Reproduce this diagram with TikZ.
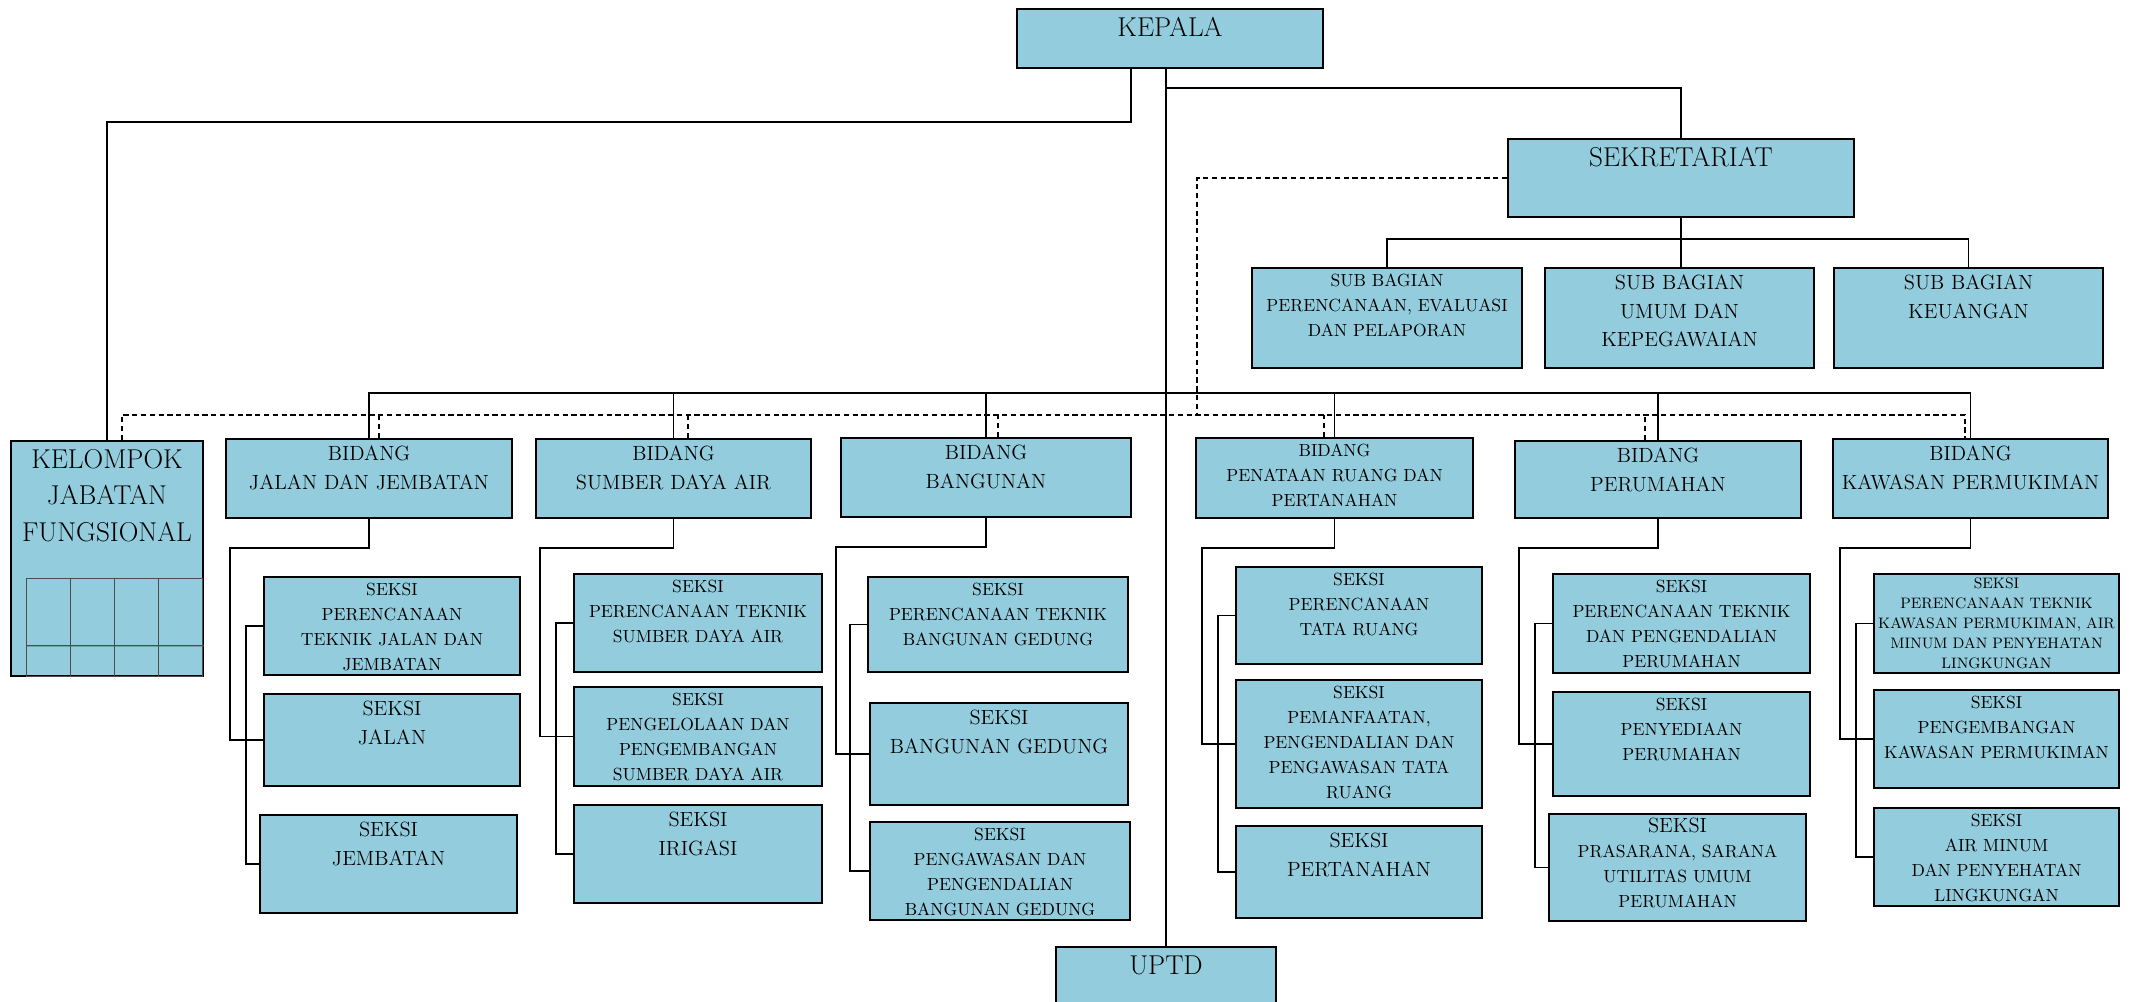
\documentclass[tikz,border=0pt]{standalone}
\usepackage{tikz}
\definecolor{boxblue}{RGB}{147,205,221}

\begin{document}
\begin{tikzpicture}[
  box/.style={draw,line width=1pt,fill=boxblue,anchor=north,align=center,inner xsep=0pt,inner ysep=0pt},
  bigbox/.style={box,font=\fontsize{15.5}{20.8}\selectfont,text height=0.55cm},
  midbox/.style={box,font=\fontsize{11.7}{16.2}\selectfont,text height=0.44cm},
  smlbox/.style={box,font=\fontsize{10}{14.2}\selectfont,text height=0.38cm},
  tnybox/.style={box,font=\fontsize{8.6}{11.3}\selectfont,text height=0.30cm},
  link/.style={line width=0.9pt},
  dline/.style={line width=0.8pt,dash pattern=on 3pt off 2pt},
  gridln/.style={draw=black!70,line width=0.6pt}]
\useasboundingbox (0,0) rectangle (42.68,-20.04);
\clip (0,0) rectangle (42.68,-20.04);
% top
\node[bigbox,text width=6.12cm,text depth=0.63cm] (kepala) at (23.40,-0.16) {KEPALA};
\node[bigbox,text width=6.92cm,text depth=1.01cm] (sekr)   at (33.62,-2.76) {SEKRETARIAT};
\node[bigbox,text width=4.40cm,text depth=0.61cm] (uptd)   at (23.32,-18.92) {UPTD};
% sub bagian
\node[smlbox,text width=5.40cm,text depth=1.62cm] (sbren)  at (27.74,-5.34) {SUB BAGIAN\\PERENCANAAN, EVALUASI\\DAN PELAPORAN};
\node[midbox,text width=5.38cm,text depth=1.56cm] (sbumum) at (33.59,-5.34) {SUB BAGIAN\\UMUM DAN\\KEPEGAWAIAN};
\node[midbox,text width=5.38cm,text depth=1.56cm] (sbkeu)  at (39.37,-5.34) {SUB BAGIAN\\KEUANGAN};
% bidang row
\node[bigbox,text width=3.84cm,text depth=4.15cm] (jabfung)   at (2.14,-8.80)  {KELOMPOK\\JABATAN\\FUNGSIONAL};
\node[midbox,text width=5.72cm,text depth=1.14cm] (bdjalan)   at (7.38,-8.76)  {BIDANG\\JALAN DAN JEMBATAN};
\node[midbox,text width=5.50cm,text depth=1.14cm] (bdsda)     at (13.47,-8.76) {BIDANG\\SUMBER DAYA AIR};
\node[midbox,text width=5.80cm,text depth=1.14cm] (bdbang)    at (19.72,-8.74) {BIDANG\\BANGUNAN};
\node[smlbox,text width=5.54cm,text depth=1.22cm] (bdtata)    at (26.69,-8.74) {BIDANG\\PENATAAN RUANG DAN\\PERTANAHAN};
\node[midbox,text width=5.72cm,text depth=1.10cm] (bdrumah)   at (33.16,-8.80) {BIDANG\\PERUMAHAN};
\node[midbox,text width=5.50cm,text depth=1.14cm] (bdkawasan) at (39.41,-8.76) {BIDANG\\KAWASAN PERMUKIMAN};
% grid inside the fungsional box
\foreach \i in {0,...,3}
  \draw[gridln] ([shift={(0.32+\i*0.88,0)}]jabfung.south west) rectangle ++(0.88,1.96);
\draw[gridln] ([shift={(0.32,0.62)}]jabfung.south west) -- ([yshift=0.62cm]jabfung.south east);
% seksi, jalan dan jembatan
\node[smlbox,text width=5.12cm,text depth=1.58cm] (jj1) at (7.84,-11.52) {SEKSI\\PERENCANAAN\\TEKNIK JALAN DAN\\JEMBATAN};
\node[midbox,text width=5.12cm,text depth=1.40cm] (jj2) at (7.84,-13.86) {SEKSI\\JALAN};
\node[midbox,text width=5.14cm,text depth=1.52cm] (jj3) at (7.77,-16.28) {SEKSI\\JEMBATAN};
% seksi, sumber daya air
\node[smlbox,text width=4.96cm,text depth=1.58cm] (sda1) at (13.96,-11.46) {SEKSI\\PERENCANAAN TEKNIK\\SUMBER DAYA AIR};
\node[smlbox,text width=4.96cm,text depth=1.60cm] (sda2) at (13.96,-13.72) {SEKSI\\PENGELOLAAN DAN\\PENGEMBANGAN\\SUMBER DAYA AIR};
\node[midbox,text width=4.96cm,text depth=1.52cm] (sda3) at (13.96,-16.08) {SEKSI\\IRIGASI};
% seksi, bangunan
\node[smlbox,text width=5.20cm,text depth=1.52cm] (bang1) at (19.96,-11.52) {SEKSI\\PERENCANAAN TEKNIK\\BANGUNAN GEDUNG};
\node[midbox,text width=5.16cm,text depth=1.60cm] (bang2) at (19.98,-14.04) {SEKSI\\BANGUNAN GEDUNG};
\node[smlbox,text width=5.20cm,text depth=1.58cm] (bang3) at (20.00,-16.42) {SEKSI\\PENGAWASAN DAN\\PENGENDALIAN\\BANGUNAN GEDUNG};
% seksi, penataan ruang
\node[smlbox,text width=4.92cm,text depth=1.56cm] (tata1) at (27.18,-11.32) {SEKSI\\PERENCANAAN\\TATA RUANG};
\node[smlbox,text width=4.92cm,text depth=2.18cm] (tata2) at (27.18,-13.58) {SEKSI\\PEMANFAATAN,\\PENGENDALIAN DAN\\PENGAWASAN TATA\\RUANG};
\node[midbox,text width=4.92cm,text depth=1.40cm] (tata3) at (27.18,-16.50) {SEKSI\\PERTANAHAN};
% seksi, perumahan
\node[smlbox,text width=5.14cm,text depth=1.60cm] (rumah1) at (33.63,-11.46) {SEKSI\\PERENCANAAN TEKNIK\\DAN PENGENDALIAN\\PERUMAHAN};
\node[smlbox,text width=5.14cm,text depth=1.70cm] (rumah2) at (33.63,-13.82) {SEKSI\\PENYEDIAAN\\PERUMAHAN};
\node[smlbox,text width=5.14cm,text depth=1.76cm] (rumah3) at (33.55,-16.26) {{\fontsize{11.7}{16.2}\selectfont SEKSI}\\PRASARANA, SARANA\\UTILITAS UMUM\\PERUMAHAN};
% seksi, kawasan permukiman
\node[tnybox,text width=4.90cm,text depth=1.68cm] (kaw1) at (39.93,-11.46) {SEKSI\\PERENCANAAN TEKNIK\\KAWASAN PERMUKIMAN, AIR\\MINUM DAN PENYEHATAN\\LINGKUNGAN};
\node[smlbox,text width=4.90cm,text depth=1.58cm] (kaw2) at (39.93,-13.78) {SEKSI\\PENGEMBANGAN\\KAWASAN PERMUKIMAN};
\node[smlbox,text width=4.90cm,text depth=1.58cm] (kaw3) at (39.93,-16.14) {SEKSI\\AIR MINUM\\DAN PENYEHATAN\\LINGKUNGAN};
% kepala lines
\coordinate (trunktop) at (uptd.north |- kepala.south);
\draw[link] (trunktop) -- (uptd.north);
\draw[link] (trunktop) ++(0,-0.38) -| (sekr.north);
\draw[link] ([xshift=-0.78cm]kepala.south) -- ++(0,-1.06) -| (jabfung.north);
% sekretariat to sub bagian
\coordinate (sbbus) at ([yshift=-0.42cm]sekr.south);
\draw[link] (sbren.north) |- (sbbus) -| (sbkeu.north);
\draw[link] (sekr.south) -- (sekr.south |- sbumum.north);
% solid bus over bidang
\coordinate (sbus) at (0,-7.86);
\draw[link] (bdjalan.north) -- (bdjalan.north |- sbus) -- (bdkawasan.north |- sbus) -- (bdkawasan.north);
\foreach \n in {bdsda,bdbang,bdtata,bdrumah}
  \draw[link] (\n.north) -- (\n.north |- sbus);
% dashed coordination line
\coordinate (dbus) at (0,-8.30);
\coordinate (dcorner) at ([xshift=-6.2cm]sekr.west);
\draw[dline] (sekr.west) -- (dcorner) -- (dcorner |- dbus);
\coordinate (dl) at ([xshift=0.30cm]jabfung.north);
\coordinate (dr) at ([xshift=-0.11cm]bdkawasan.north);
\draw[dline] (dl) -- (dl |- dbus) -- (dr |- dbus) -- (dr);
\foreach \n/\d in {bdjalan/0.20,bdsda/0.29,bdbang/0.24,bdtata/-0.21,bdrumah/-0.26}{
  \coordinate (dp) at ([xshift=\d cm]\n.north);
  \draw[dline] (dp) -- (dp |- dbus);
}
% bidang to seksi
\foreach \b/\sk in {bdjalan/jj,bdsda/sda,bdbang/bang,bdtata/tata,bdrumah/rumah,bdkawasan/kaw}{
  \draw[link] (\b.south) -- ++(0,-0.58) -| ([xshift=-0.66cm]\sk2.west) -- (\sk2.west);
  \draw[link] (\sk1.west) -- ++(-0.34,0) |- (\sk3.west);
}
\end{tikzpicture}
\end{document}
